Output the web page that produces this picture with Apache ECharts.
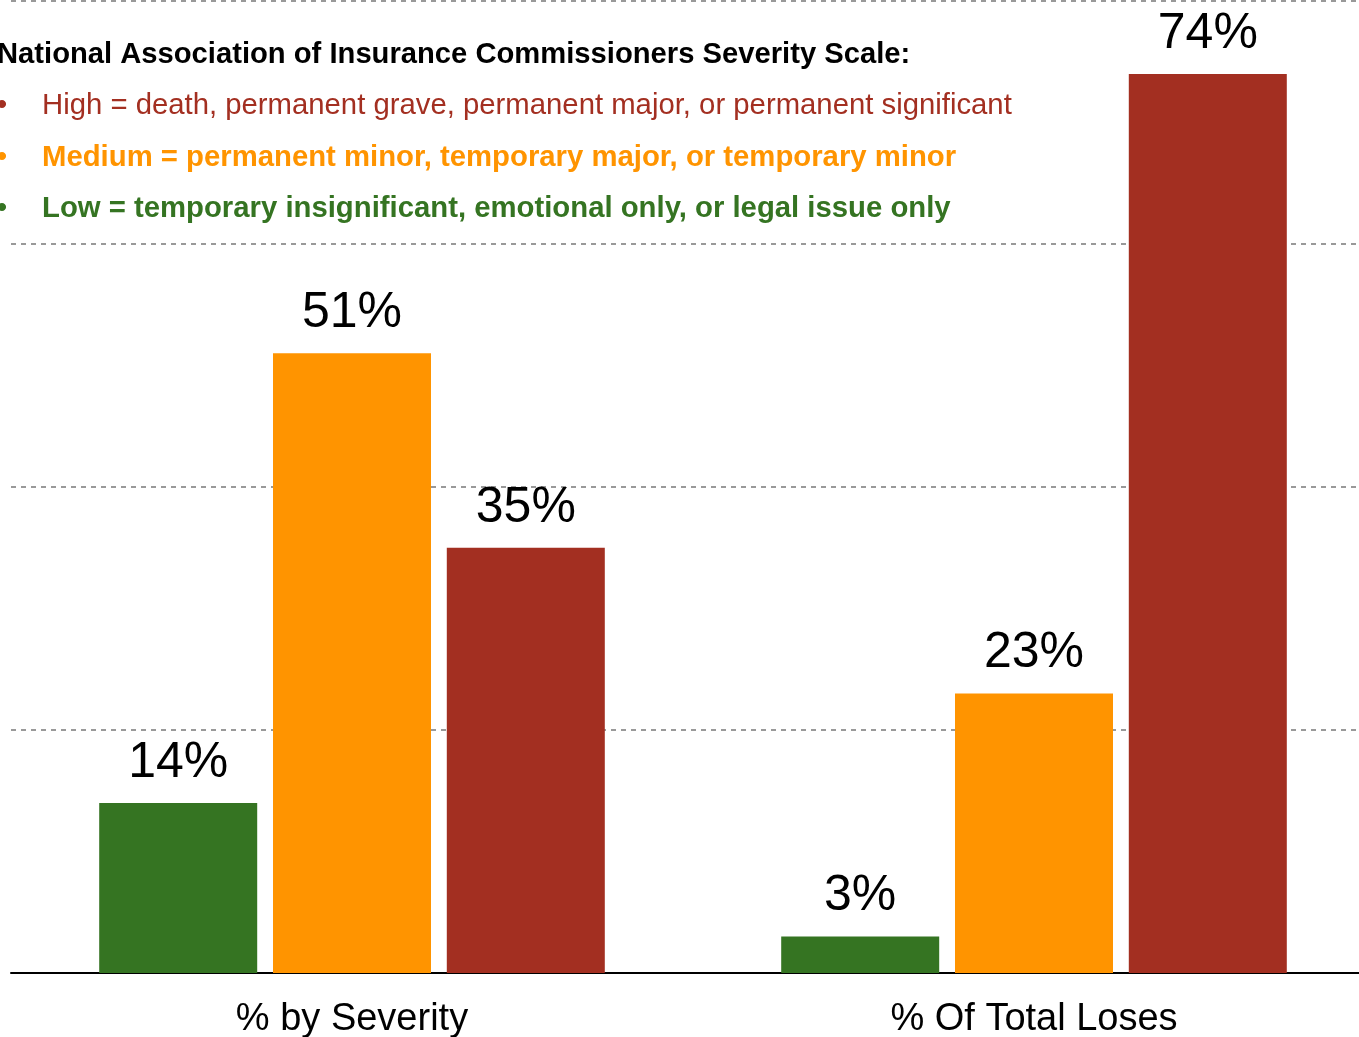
<!DOCTYPE html>
<html lang="en">
<head>
    <meta charset="utf-8">
    <title>Severity Scale</title>
    <script src="https://cdn.jsdelivr.net/npm/echarts@6/dist/echarts.min.js"></script>
    <style>
        html, body { margin: 0; padding: 0; background: #fff; }
        #chart { width: 1359px; height: 1037px; }
    </style>
</head>
<body>
<div id="chart"></div>
<script type="text/javascript">
    // data
    var categories = ['% by Severity', '% Of Total Loses'];
    var lowValues = [14, 3];
    var mediumValues = [51, 23];
    var highValues = [35, 74];

    var legendTitle = 'National Association of Insurance Commissioners Severity Scale:';
    var legendLines = [
        'High = death, permanent grave, permanent major, or permanent significant',
        'Medium = permanent minor, temporary major, or temporary minor',
        'Low = temporary insignificant, emotional only, or legal issue only'
    ];

    var FONT = '"Liberation Sans", Arial, sans-serif';
    var GREEN = '#357422', ORANGE = '#ff9400', RED = '#a32f21';
    var lineColors = [RED, ORANGE, GREEN];
    var lineBold = ['normal', 'bold', 'bold'];

    var dom = document.getElementById('chart');
    var myChart = echarts.init(dom);

    var graphics = [{
        type: 'text', x: -3, y: 55, z: 10,
        style: { text: legendTitle, fill: '#000', font: 'bold 29.2px ' + FONT, verticalAlign: 'middle' }
    }];
    legendLines.forEach(function (t, i) {
        var y = 106 + i * 51.5;
        graphics.push({
            type: 'text', x: 2, y: y, z: 10,
            style: { text: '\u2022', fill: lineColors[i], font: '30px ' + FONT, align: 'center', verticalAlign: 'middle' }
        });
        graphics.push({
            type: 'text', x: 42, y: y, z: 10,
            style: { text: t, fill: lineColors[i], font: lineBold[i] + ' 29.3px ' + FONT, verticalAlign: 'middle' }
        });
    });

    function barSeries(name, values, color) {
        return {
            name: name,
            type: 'bar',
            data: values,
            barWidth: 158,
            barGap: '10%',
            itemStyle: { color: color },
            label: {
                show: true,
                position: 'top',
                distance: 15,
                formatter: '{c}%',
                color: '#000',
                fontSize: 50,
                fontFamily: FONT
            }
        };
    }

    var option = {
        animation: false,
        backgroundColor: '#fff',
        textStyle: { fontFamily: FONT },
        grid: { left: 11, width: 1364, top: 1, bottom: 64, containLabel: false, outerBoundsMode: 'none' },
        xAxis: {
            type: 'category',
            data: categories,
            axisTick: { show: false },
            axisLine: { lineStyle: { color: '#000', width: 2 } },
            axisLabel: { color: '#000', fontSize: 38, margin: 28, fontFamily: FONT }
        },
        yAxis: {
            type: 'value',
            min: 0,
            max: 80,
            interval: 20,
            axisLabel: { show: false },
            axisLine: { show: false },
            axisTick: { show: false },
            splitLine: { lineStyle: { color: '#999', type: [5, 5], width: 2 } }
        },
        graphic: graphics,
        series: [
            barSeries('Low', lowValues, GREEN),
            barSeries('Medium', mediumValues, ORANGE),
            barSeries('High', highValues, RED)
        ]
    };

    myChart.setOption(option);
</script>
</body>
</html>
